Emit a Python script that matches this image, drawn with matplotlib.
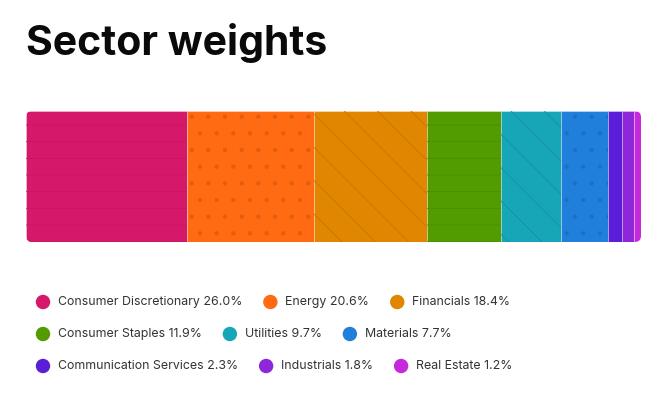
import matplotlib.pyplot as plt
from matplotlib.patches import FancyBboxPatch, Circle
import matplotlib.colors as mcolors

# sector weights (%)
sectors = ['Consumer Discretionary', 'Energy', 'Financials', 'Consumer Staples',
           'Utilities', 'Materials', 'Communication Services', 'Industrials', 'Real Estate']
weights = [26.0, 20.6, 18.4, 11.9, 9.7, 7.7, 2.3, 1.8, 1.2]
colors = ['#D6186A', '#FF6A13', '#E08600', '#529B00', '#17A5B8',
          '#1F7FDB', '#5A1ED8', '#8E27D9', '#C629DB']
hatches = ['-', '.', '\\', '-', '\\', '.', '', '', '']
legend_rows = [[0, 1, 2], [3, 4, 5], [6, 7, 8]]

W, H = 659, 395
plt.rcParams['font.family'] = ['Inter', 'DejaVu Sans']
plt.rcParams['hatch.linewidth'] = 0.6
fig = plt.figure(figsize=(W / 100, H / 100), dpi=100)

fig.text(26 / W, 1 - 43 / H, 'Sector weights', fontsize=29.5, fontweight='bold',
         color='#0a0a0a', va='center', ha='left')

ax = fig.add_axes([26 / W, 1 - 242 / H, 615 / W, 131 / H])
total = sum(weights)
lefts = [sum(weights[:i]) for i in range(len(weights))]

clip = FancyBboxPatch((0, 0), total, 1, boxstyle='round,pad=0,rounding_size=1.0',
                      transform=ax.transData, facecolor='none', edgecolor='none',
                      mutation_aspect=1 / (total / 615 * 131))
ax.add_patch(clip)

bars = ax.barh(0.5, weights, left=lefts, height=1, color=colors,
               edgecolor=(1, 1, 1, 0.3), linewidth=0.7)
for b in bars:
    b.set_clip_path(clip)
for i, (l, w) in enumerate(zip(lefts, weights)):
    if hatches[i]:
        shade = 0.92 if hatches[i] == '-' else 0.88
        dark = [c * shade for c in mcolors.to_rgb(colors[i])]
        hb = ax.barh(0.5, w, left=l, height=1, facecolor='none',
                     edgecolor=dark, hatch=hatches[i], linewidth=0)
        hb[0].set_clip_path(clip)

ax.set_xlim(0, total)
ax.set_ylim(0, 1)
ax.axis('off')

# legend, flowed left to right
fig.canvas.draw()
renderer = fig.canvas.get_renderer()
row_y = [302, 334, 366]
for r, idxs in enumerate(legend_rows):
    x = 43
    for i in idxs:
        fig.patches.append(Circle((x / W, 1 - row_y[r] / H), 6.5 / H,
                                  transform=fig.transFigure, color=colors[i]))
        t = fig.text((x + 15) / W, 1 - row_y[r] / H, f'{sectors[i]} {weights[i]:.1f}%',
                     fontsize=8.9, color='#333333', va='center', ha='left')
        bb = t.get_window_extent(renderer)
        x = bb.x1 + 28

# make circles round (figure is not square)
for p in fig.patches:
    if isinstance(p, Circle):
        p.width = 13 / W

fig.savefig('out.png', dpi=100)
